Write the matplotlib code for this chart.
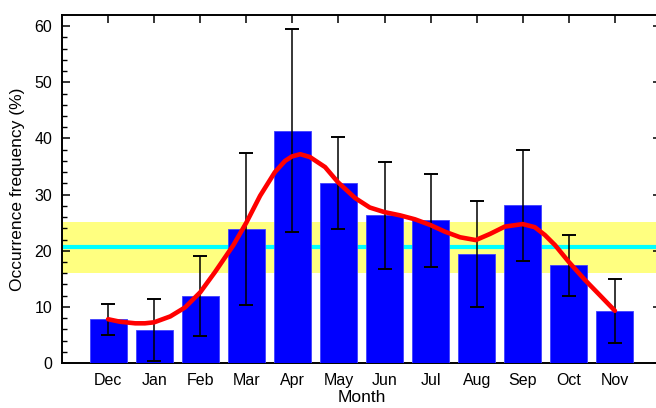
import matplotlib
matplotlib.use("Agg")
import matplotlib.pyplot as plt
import numpy as np

plt.rcParams['font.family'] = ['Liberation Sans', 'DejaVu Sans']

months = ["Dec", "Jan", "Feb", "Mar", "Apr", "May", "Jun", "Jul", "Aug", "Sep", "Oct", "Nov"]
freq = [7.8, 5.9, 11.9, 23.9, 41.4, 32.1, 26.3, 25.4, 19.5, 28.1, 17.4, 9.2]
err = [2.8, 5.5, 7.1, 13.55, 18.1, 8.25, 9.5, 8.3, 9.45, 9.85, 5.45, 5.7]

mean_level = 20.7
band_low = 16.1
band_high = 25.2

# smoothed curve (x in month-index units)
curve_x = [0.00, 0.26, 0.59, 0.80, 1.00, 1.35, 1.67, 2.00, 2.32, 2.72, 3.00, 3.30,
           3.62, 3.84, 3.99, 4.17, 4.38, 4.71, 4.99, 5.36, 5.68, 5.99, 6.34, 6.66,
           6.99, 7.31, 7.64, 7.98, 8.29, 8.61, 9.00, 9.26, 9.48, 9.70, 10.00, 10.35,
           10.67, 11.00]
curve_y = [7.8, 7.35, 7.07, 7.07, 7.25, 8.3, 9.9, 12.6, 16.2, 21.0, 25.0, 29.8,
           34.0, 36.0, 36.8, 37.2, 36.7, 34.9, 32.2, 29.4, 27.7, 26.9, 26.3, 25.6,
           24.6, 23.4, 22.4, 21.9, 23.0, 24.3, 24.75, 24.2, 22.8, 21.0, 18.0, 14.8,
           12.1, 9.3]

fig = plt.figure(figsize=(6.56, 4.08), dpi=100)
ax = fig.add_axes([62/656, 45/408, (661-62)/656, (363-15)/408])

x = np.arange(len(months))
ax.axhspan(band_low, band_high, color="#FFFF80", zorder=1, lw=0)
ax.axhline(mean_level, color="#00FFFF", lw=3.0, zorder=2)
ax.bar(x, freq, width=0.8, color="#0000FF", edgecolor="#4040FF", linewidth=0.6, zorder=3)
ax.errorbar(x, freq, yerr=err, fmt="none", ecolor="black", elinewidth=1.1,
            capsize=5, capthick=1.4, zorder=4)
ax.plot(curve_x, curve_y, color="#FF0000", lw=3.3, solid_capstyle="round",
        solid_joinstyle="round", zorder=5)

ax.set_xlim(-1, 12)
ax.set_ylim(0, 62)
ax.set_xticks(x)
ax.set_xticklabels(months)
ax.set_yticks(np.arange(0, 61, 10))
ax.set_yticks(np.arange(0, 62, 2), minor=True)
ax.tick_params(axis="both", which="major", direction="in", length=6, width=1.1,
               labelsize=11.5, top=True, right=True, pad=7)
ax.tick_params(axis="y", which="minor", direction="in", length=3.5, width=1.0, right=False)
ax.tick_params(axis="x", which="minor", bottom=False, top=False)
for s in ax.spines.values():
    s.set_linewidth(1.4)

ax.set_xlabel("Month", fontsize=12.5, labelpad=1.5)
ax.set_ylabel("Occurrence frequency (%)", fontsize=12.5, labelpad=7)

fig.savefig("out.png", dpi=100)
